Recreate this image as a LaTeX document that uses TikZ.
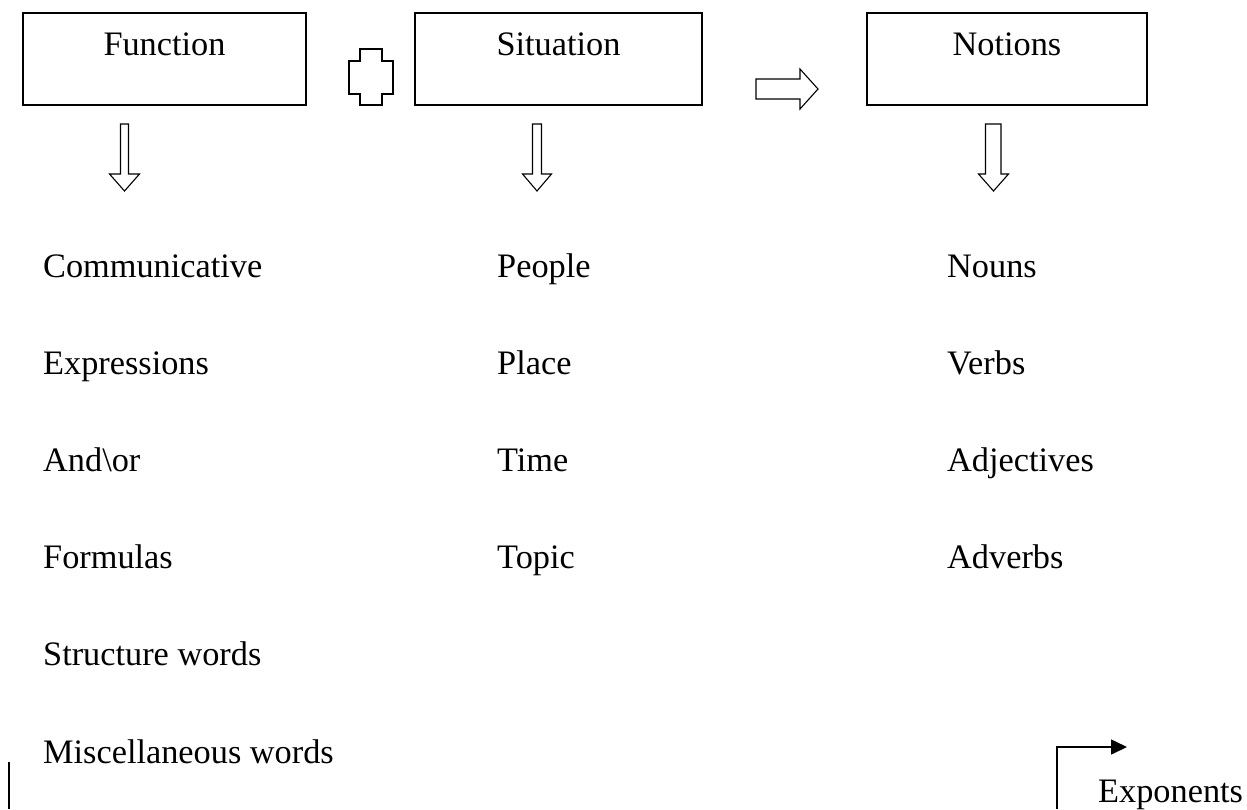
\documentclass[tikz,border=0pt]{standalone}
\usepackage{fontspec}
\setmainfont{Liberation Serif}
\usetikzlibrary{arrows.meta}
\tikzset{
  box/.style={draw, line width=1.1pt, rectangle, inner sep=0pt},
  txt/.style={inner sep=0pt, anchor=base west, font=\fontsize{34.3}{40}\selectfont},
  btxt/.style={inner sep=0pt, anchor=base, font=\fontsize{34.3}{40}\selectfont},
  blockarrow/.style={draw, line width=1.1pt, line join=miter},
  thinline/.style={line width=1.6pt},
}
\begin{document}
\begin{tikzpicture}[x=1pt,y=-1pt]
\useasboundingbox (0,0) rectangle (1247,809);
% boxes
\node[box, minimum width=283pt, minimum height=92pt] (fbox) at (164.5,59) {};
\node[btxt] (ftxt) at (164.5,55) {Function};
\node[box, minimum width=287pt, minimum height=92pt] (sbox) at (558.5,59) {};
\node[btxt] (stxt) at (558.5,55) {Situation};
\node[box, minimum width=280pt, minimum height=92pt] (nbox) at (1007,59) {};
\node[btxt] (ntxt) at (1007,55) {Notions};
% plus shape
\draw[blockarrow] (360,49) -- (382,49) -- (382,61) -- (393,61) -- (393,94) -- (382,94) -- (382,105) -- (360,105) -- (360,94) -- (349,94) -- (349,61) -- (360,61) -- cycle;
% right block arrow
\draw[blockarrow] (756,79) -- (800,79) -- (800,69) -- (818,89) -- (800,109) -- (800,99) -- (756,99) -- cycle;
% down block arrows
\draw[blockarrow] (121.5,124) -- (128.5,124) -- (128.5,174) -- (139.5,174) -- (124.5,191) -- (109.5,174) -- (120.5,174) -- (120.5,124) -- cycle;
\draw[blockarrow] (532.5,124) -- (541.5,124) -- (541.5,174) -- (551.5,174) -- (537,191) -- (522.5,174) -- (532.5,174) -- cycle;
\draw[blockarrow] (985.5,124) -- (1001,124) -- (1001,174) -- (1008.5,174) -- (993.5,191) -- (978.5,174) -- (985.5,174) -- cycle;
% left column
\node[txt] (c1) at (43,277) {Communicative};
\node[txt] (c2) at (43,374) {Expressions};
\node[txt] (c3) at (43,471) {And\textbackslash or};
\node[txt] (c4) at (43,568) {Formulas};
\node[txt] (c5) at (43,665) {Structure words};
\node[txt] (c6) at (43,763) {Miscellaneous words};
% middle column
\node[txt] (m1) at (497,277) {People};
\node[txt] (m2) at (497,374) {Place};
\node[txt] (m3) at (497,471) {Time};
\node[txt] (m4) at (497,568) {Topic};
% right column
\node[txt] (r1) at (947,277) {Nouns};
\node[txt] (r2) at (947,374) {Verbs};
\node[txt] (r3) at (947,471) {Adjectives};
\node[txt] (r4) at (947,568) {Adverbs};
% exponents
\node[txt] (expo) at (1098,802) {Exponents};
\coordinate (lt) at (9,762);
\coordinate (lb) at (9,809);
\draw[thinline] (lt) -- (lb);
\coordinate (es) at (1057,809);
\coordinate (ee) at (1127,747);
\draw[thinline, -{Triangle[length=16pt,width=15pt]}] (es) |- (ee);
\end{tikzpicture}
\end{document}
